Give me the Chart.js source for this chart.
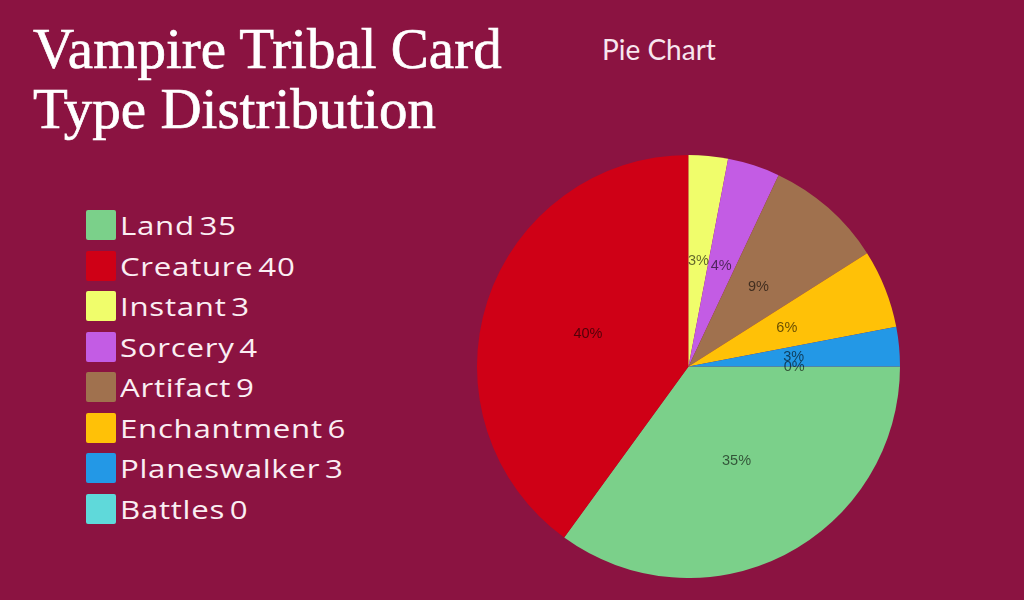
<!DOCTYPE html>
<html>
<head>
<meta charset="utf-8">
<script src="https://cdn.jsdelivr.net/npm/chart.js@4.4.0/dist/chart.umd.min.js"></script>
<style>
  html,body{margin:0;padding:0;}
  body{width:1024px;height:600px;background:#8B1341;position:relative;overflow:hidden;}
  #title{position:absolute;left:33px;top:19px;margin:0;font-family:"Liberation Serif","DejaVu Serif",serif;font-weight:normal;font-size:57px;line-height:60px;color:#fff;-webkit-text-stroke:0.7px #fff;}
  #sub{position:absolute;left:602px;top:32px;font-family:Lato,"Open Sans",sans-serif;font-size:28px;color:#f8e6ee;}
  #legend{position:absolute;left:86px;top:205px;font-family:"Open Sans",Lato,sans-serif;font-size:26px;color:#fbeef3;}
  .row{height:40.5px;display:flex;align-items:center;white-space:nowrap;}
  .box{width:30px;height:30px;border-radius:2px;margin-right:4px;flex:none;}
  .txt{display:inline-block;transform:scaleX(1.2);transform-origin:left center;letter-spacing:0.6px;}
  .val{margin-left:4px;}
  #wrap{position:absolute;left:477px;top:155px;width:423px;height:423px;}
</style>
</head>
<body>
<h1 id="title">Vampire Tribal Card<br>Type Distribution</h1>
<div id="sub">Pie Chart</div>
<div id="legend"></div>
<div id="wrap"><canvas id="c"></canvas></div>
<script>
const categories = ["Land","Creature","Instant","Sorcery","Artifact","Enchantment","Planeswalker","Battles"];
const counts = [35,40,3,4,9,6,3,0];
const colors = ["#7BD08A","#CF0016","#F0FD6B","#C35CE4","#A0714E","#FFC107","#2398E6","#5FD9DA"];

const legend = document.getElementById('legend');
categories.forEach((c,i)=>{
  const r=document.createElement('div');r.className='row';
  r.innerHTML='<span class="box" style="background:'+colors[i]+'"></span><span class="txt">'+c+'<span class="val">'+counts[i]+'</span></span>';
  legend.appendChild(r);
});

const total = counts.reduce((a,b)=>a+b,0);
const pctLabels = {
  id:'pctLabels',
  afterDatasetsDraw(chart){
    const ctx=chart.ctx;
    const meta=chart.getDatasetMeta(0);
    ctx.save();
    ctx.font='14.5px "Liberation Sans", Arial, sans-serif';
    ctx.fillStyle='rgba(0,0,0,0.6)';
    ctx.textAlign='center';ctx.textBaseline='middle';
    meta.data.forEach((arc,i)=>{
      const p=arc.tooltipPosition();
      ctx.fillText(Math.round(counts[i]/total*100)+'%',p.x,p.y);
    });
    ctx.restore();
  }
};

new Chart(document.getElementById('c'),{
  type:'pie',
  data:{labels:categories,datasets:[{data:counts,backgroundColor:colors,borderWidth:0}]},
  options:{
    responsive:true,maintainAspectRatio:false,animation:false,
    rotation:90,
    layout:{padding:0},
    plugins:{legend:{display:false},tooltip:{enabled:false}}
  },
  plugins:[pctLabels]
});
</script>
</body>
</html>
